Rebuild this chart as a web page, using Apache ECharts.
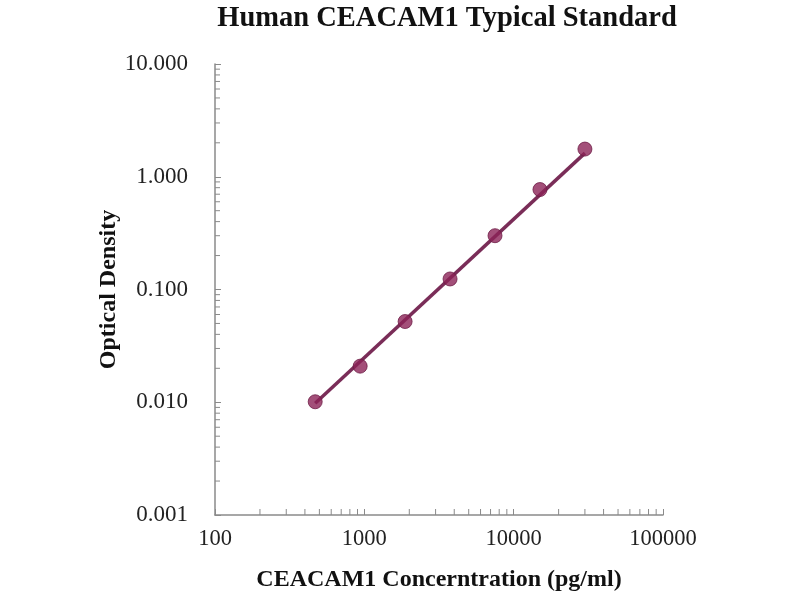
<!DOCTYPE html>
<html>
<head>
<meta charset="utf-8">
<script src="https://cdn.jsdelivr.net/npm/echarts@6/dist/echarts.min.js"></script>
<style>html,body{margin:0;padding:0;background:#fff;}#c{width:800px;height:600px;}</style>
</head>
<body>
<div id="c"></div>
<script>
// Data
const concentrations = [468.75, 937.5, 1875, 3750, 7500, 15000, 30000];
const opticalDensity = [0.0101, 0.0209, 0.052, 0.124, 0.30, 0.77, 1.76];
// Fitted standard curve end points
const fitX = [468.75, 30000];
const fitY = [0.0098, 1.62];
// Axis decades and minor tick multipliers
const xDecades = [100, 1000, 10000];
const yDecades = [0.001, 0.01, 0.1, 1];
const minorMultipliers = [2, 3, 4, 5, 6, 7, 8, 9];

const serif = "'Liberation Serif', 'DejaVu Serif', serif";
const axisColor = '#8a8a8a';

const minorTicks = [];
xDecades.forEach(d => minorMultipliers.forEach(m => minorTicks.push([d * m, 0.001, 0])));
yDecades.forEach(d => minorMultipliers.forEach(m => minorTicks.push([100, d * m, 1])));

const chart = echarts.init(document.getElementById('c'), null, {renderer: 'canvas'});
chart.setOption({
  backgroundColor: '#ffffff',
  animation: false,
  title: {
    text: 'Human CEACAM1 Typical Standard',
    left: 442, top: -1, textAlign: 'center',
    textStyle: {fontFamily: serif, fontWeight: 'bold', fontSize: 28.5, color: '#111'}
  },
  grid: {left: 215, right: 137, top: 64, bottom: 85, containLabel: false},
  xAxis: {
    type: 'log', logBase: 10, min: 100, max: 100000,
    name: 'CEACAM1 Concerntration (pg/ml)',
    nameLocation: 'middle', nameGap: 53,
    nameTextStyle: {fontFamily: serif, fontWeight: 'bold', fontSize: 24, color: '#111'},
    axisLine: {lineStyle: {color: axisColor, width: 1.5}},
    axisTick: {show: true, inside: true, length: 6, lineStyle: {color: axisColor}},
    axisLabel: {fontFamily: serif, fontSize: 22.5, color: '#222', margin: 13,
      formatter: v => String(Math.round(v))},
    splitLine: {show: false}
  },
  yAxis: {
    type: 'log', logBase: 10, min: 0.001, max: 10,
    name: 'Optical Density',
    nameLocation: 'middle', nameGap: 94, nameRotate: 90, nameMoveOverlap: false,
    nameTextStyle: {fontFamily: serif, fontWeight: 'bold', fontSize: 24, color: '#111'},
    axisLine: {lineStyle: {color: axisColor, width: 1.5}},
    axisTick: {show: true, inside: true, length: 6, lineStyle: {color: axisColor}},
    axisLabel: {fontFamily: serif, fontSize: 23, color: '#222', margin: 27,
      formatter: v => Number(v).toFixed(3)},
    splitLine: {show: false}
  },
  series: [
    {
      type: 'custom',
      silent: true,
      clip: false,
      z: 1,
      data: minorTicks,
      renderItem: function (params, api) {
        const p = api.coord([api.value(0), api.value(1)]);
        const vertical = api.value(2) === 0;
        return {
          type: 'line',
          shape: vertical ? {x1: p[0], y1: p[1], x2: p[0], y2: p[1] - 6}
                          : {x1: p[0], y1: p[1], x2: p[0] + 5, y2: p[1]},
          style: {stroke: axisColor, lineWidth: 1}
        };
      }
    },
    {
      type: 'line',
      data: fitX.map((x, i) => [x, fitY[i]]),
      showSymbol: false,
      lineStyle: {color: '#7a2d58', width: 3.5},
      z: 2
    },
    {
      type: 'scatter',
      data: concentrations.map((x, i) => [x, opticalDensity[i]]),
      symbol: 'circle',
      symbolSize: 14,
      itemStyle: {color: '#8c2358', borderColor: '#6e1d46', borderWidth: 1},
      z: 3
    }
  ]
});
</script>
</body>
</html>
